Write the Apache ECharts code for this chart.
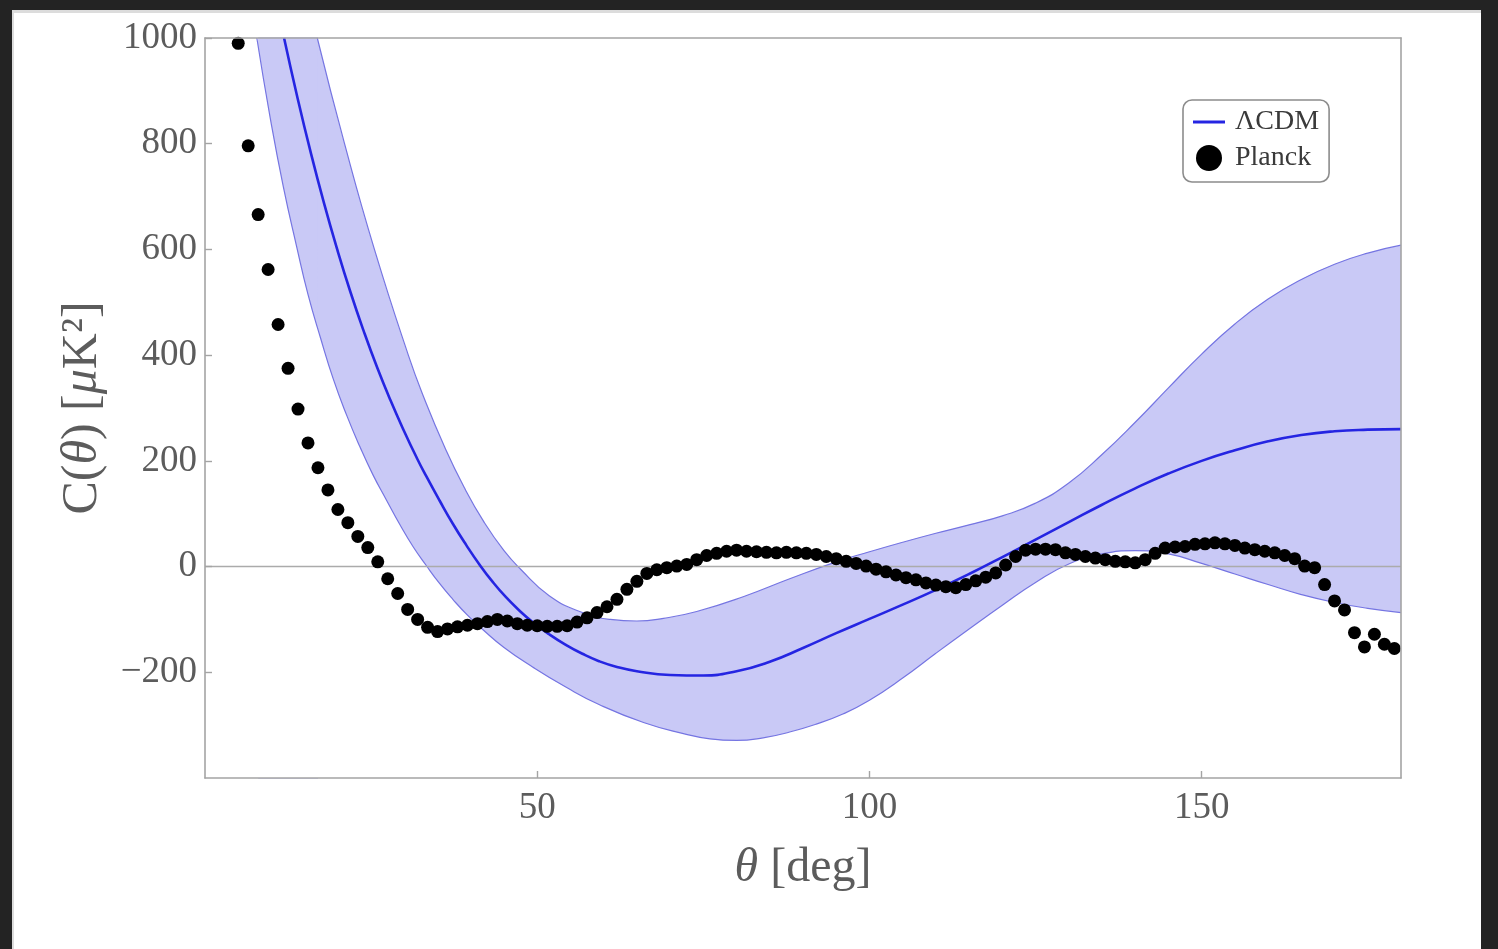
<!DOCTYPE html>
<html>
<head>
<meta charset="utf-8">
<script src="https://cdn.jsdelivr.net/npm/echarts@6/dist/echarts.min.js"></script>
<style>
  html, body { margin: 0; padding: 0; background: #232323; width: 1498px; height: 949px; overflow: hidden; }
  #panel { position: absolute; left: 12px; top: 10px; width: 1469px; height: 939px; background: #fff;
           border-top: 3px solid #dcdcdc; border-left: 2px solid #dcdcdc; box-sizing: border-box; }
  #chart { position: absolute; left: 0; top: 0; width: 1498px; height: 949px; }
</style>
</head>
<body>
<div id="panel"></div>
<div id="chart"></div>
<script>
// Tick positions
const xTicks = [50, 100, 150];
const yTicks = [-200, 0, 200, 400, 600, 800, 1000];

// Planck two-point correlation, theta [deg] and C(theta) [muK^2]
const planckTheta = [5, 6.5, 8, 9.5, 11, 12.5, 14, 15.5, 17, 18.5,
  20, 21.5, 23, 24.5, 26, 27.5, 29, 30.5, 32, 33.5,
  35, 36.5, 38, 39.5, 41, 42.5, 44, 45.5, 47, 48.5,
  50, 51.5, 53, 54.5, 56, 57.5, 59, 60.5, 62, 63.5,
  65, 66.5, 68, 69.5, 71, 72.5, 74, 75.5, 77, 78.5,
  80, 81.5, 83, 84.5, 86, 87.5, 89, 90.5, 92, 93.5,
  95, 96.5, 98, 99.5, 101, 102.5, 104, 105.5, 107, 108.5,
  110, 111.5, 113, 114.5, 116, 117.5, 119, 120.5, 122, 123.5,
  125, 126.5, 128, 129.5, 131, 132.5, 134, 135.5, 137, 138.5,
  140, 141.5, 143, 144.5, 146, 147.5, 149, 150.5, 152, 153.5,
  155, 156.5, 158, 159.5, 161, 162.5, 164, 165.5, 167, 168.5,
  170, 171.5, 173, 174.5, 176, 177.5, 179];
const planckC = [990, 796, 666, 562, 458, 375, 298, 234, 187, 145,
  108, 83, 57, 36, 9, -23, -51, -81, -100, -115,
  -123, -118, -114, -111, -108, -104, -100, -103, -108, -111,
  -112, -113, -113, -112, -105, -97, -87, -76, -62, -43,
  -28, -13, -6, -2, 1, 4, 13, 21, 25, 29,
  31, 29, 28, 27, 26, 27, 26, 25, 23, 19,
  15, 10, 6, 1, -5, -10, -16, -21, -25, -31,
  -35, -38, -40, -34, -27, -20, -12, 3, 19, 31,
  33, 33, 32, 26, 23, 19, 16, 13, 10, 9,
  7, 13, 25, 35, 37, 38, 42, 43, 45, 43,
  40, 35, 32, 29, 26, 21, 15, 1, -2, -34,
  -65, -82, -125, -152, -128, -147, -155];

// LambdaCDM mean prediction
const lcdmTheta = [11.9, 13.9, 15.9, 17.9, 19.9, 21.9, 23.9, 25.9, 27.9, 29.9,
  31.9, 33.3, 35.3, 37.3, 39.3, 41.3, 43.3, 45.3, 47.3, 49.3,
  51.8, 54.3, 56.8, 59.3, 62, 65, 70, 75, 80, 85,
  90, 95, 100, 105, 110, 115, 120, 125, 130, 135,
  140, 145, 150, 155, 160, 165, 170, 175, 180];
const lcdmC = [1000, 888, 784, 688, 600, 519, 445, 377, 315, 258,
  205, 171, 125, 81, 41, 4, -29, -58, -83, -105,
  -128, -148, -165, -179, -190, -198, -205, -206, -198, -180,
  -154, -126, -99, -72, -44, -14, 18, 51, 84, 117,
  148, 176, 200, 220, 237, 249, 256, 259, 260];

// Cosmic-variance band, upper edge
const upperTheta = [16.9, 21.0, 25.5, 30.6, 33, 36, 39, 42, 45, 47.5,
  51.8, 56.8, 61, 65, 69, 74, 81, 88, 95, 100,
  105, 110, 115, 120, 125, 130, 135, 140, 145, 150,
  155, 160, 165, 170, 175, 180];
const upperC = [1000, 800, 600, 400, 318, 228, 150, 84, 30, -5,
  -55, -87, -100, -103, -98, -85, -57, -23, 9, 28,
  46, 63, 79, 96, 120, 158, 212, 273, 338, 402,
  459, 506, 543, 572, 593, 608];

// Cosmic-variance band, lower edge
const lowerTheta = [7.8, 9.8, 11.8, 13.8, 15.5, 17.4, 19.3, 21.3, 23.3, 25.3,
  27.3, 29.3, 31.3, 33.3, 35.3, 37.3, 39.5, 41.8, 45, 49.3,
  54.3, 59.3, 66, 72, 76, 80, 84, 88, 92, 96,
  100, 105, 110, 115, 120, 125, 130, 135, 140, 145,
  150, 155, 160, 165, 170, 175, 180];
const lowerC = [1000, 850, 718, 605, 515, 432, 355, 287, 227, 173,
  126, 80, 38, 2, -32, -62, -92, -119, -153, -190,
  -228, -261, -295, -316, -326, -329, -324, -313, -298, -279,
  -253, -211, -164, -118, -73, -30, 5, 24, 30, 24,
  6, -14, -34, -53, -68, -79, -87];

const pairs = (xs, ys) => xs.map((x, i) => [x, ys[i]]);
const serif = '"Liberation Serif", "DejaVu Serif", serif';
const minus = v => (v < 0 ? '\u2212' + Math.abs(v) : String(v));

const bandFill = '#c9c9f6';
const bandEdge = '#7575e2';
const lineBlue = '#2525e2';
const frame = { onZero: false, lineStyle: { color: '#a4a4a4', width: 1.6 } };
const labelStyle = { fontFamily: serif, fontSize: 37, color: '#5c5c5c' };
const nameStyle = size => ({
  fontFamily: serif, fontSize: size, color: '#5c5c5c',
  rich: { i: { fontFamily: serif, fontSize: size, fontStyle: 'italic', color: '#5c5c5c' } }
});
const SMOOTH = 0.5;

const chart = echarts.init(document.getElementById('chart'));
chart.setOption({
  animation: false,
  backgroundColor: 'transparent',
  grid: { left: 205, top: 38, right: 97, bottom: 171 },
  legend: {
    data: [
      { name: '\u039BCDM', icon: 'path://M0,0 M0,11.5 L32,11.5 L32,14.5 L0,14.5 Z M32,26' },
      { name: 'Planck', icon: 'circle' }
    ],
    orient: 'vertical',
    left: 1183, top: 100,
    itemWidth: 32, itemHeight: 26, itemGap: 8,
    padding: [8, 10, 10, 10],
    borderColor: '#8c8c8c', borderWidth: 1.6, borderRadius: 9,
    backgroundColor: '#fff',
    textStyle: { fontFamily: serif, fontSize: 28, color: '#3a3a3a', padding: [0, 0, 0, 5] },
    selectedMode: false
  },
  xAxis: [
    {
      type: 'value', min: 0, max: 180, position: 'bottom', z: 10,
      axisLine: frame,
      axisTick: { inside: true, length: 7, customValues: xTicks, lineStyle: { color: '#a4a4a4', width: 1.4 } },
      axisLabel: Object.assign({ customValues: xTicks, margin: 12 }, labelStyle),
      splitLine: { show: false },
      name: '{i|\u03B8} [deg]', nameLocation: 'middle', nameGap: 66, nameTextStyle: nameStyle(48)
    },
    {
      type: 'value', min: 0, max: 180, position: 'top', z: 10,
      axisLine: frame, axisTick: { show: false }, axisLabel: { show: false }, splitLine: { show: false }
    }
  ],
  yAxis: [
    {
      type: 'value', min: -400, max: 1000, position: 'left', z: 10,
      axisLine: frame,
      axisTick: { inside: true, length: 7, customValues: yTicks, lineStyle: { color: '#a4a4a4', width: 1.4 } },
      axisLabel: Object.assign({ customValues: yTicks, margin: 8, formatter: minus }, labelStyle),
      splitLine: { show: false },
      name: 'C({i|\u03B8}) [{i|\u03BC}K\u00B2]', nameLocation: 'middle', nameGap: 97, nameRotate: 90,
      nameTextStyle: nameStyle(50)
    },
    {
      type: 'value', min: -400, max: 1000, position: 'right', z: 10,
      axisLine: frame, axisTick: { show: false }, axisLabel: { show: false }, splitLine: { show: false }
    }
  ],
  series: [
    {
      name: 'band-upper', type: 'line', z: 1, symbol: 'none', smooth: SMOOTH,
      data: pairs(upperTheta, upperC),
      lineStyle: { color: bandEdge, width: 1.2 },
      areaStyle: { color: bandFill, opacity: 1, origin: 'start' },
      // top-left part of the band, between where the lower and upper edges leave the frame
      markArea: {
        silent: true, z: 1,
        itemStyle: { color: bandFill, opacity: 1, borderColor: bandFill, borderWidth: 1.5 },
        data: [[{ xAxis: lowerTheta[0] + 0.3 }, { xAxis: upperTheta[0] }]]
      },
      silent: true
    },
    {
      name: 'band-lower', type: 'line', z: 2, symbol: 'none', smooth: SMOOTH,
      data: pairs(lowerTheta, lowerC),
      lineStyle: { color: bandEdge, width: 1.2 },
      areaStyle: { color: '#ffffff', opacity: 1, origin: 'start' },
      silent: true
    },
    {
      name: '\u039BCDM', type: 'line', z: 4, symbol: 'none', smooth: SMOOTH,
      color: lineBlue,
      data: pairs(lcdmTheta, lcdmC),
      lineStyle: { color: lineBlue, width: 2.6 },
      markLine: {
        silent: true, z: 3, symbol: ['none', 'none'],
        label: { show: false },
        lineStyle: { color: '#ababab', width: 1.3, type: 'solid' },
        data: [{ yAxis: 0 }]
      }
    },
    {
      name: 'Planck', type: 'scatter', z: 6, symbol: 'circle', symbolSize: 13,
      color: '#000',
      itemStyle: { color: '#000', opacity: 1 },
      data: pairs(planckTheta, planckC)
    }
  ]
});
</script>
</body>
</html>
